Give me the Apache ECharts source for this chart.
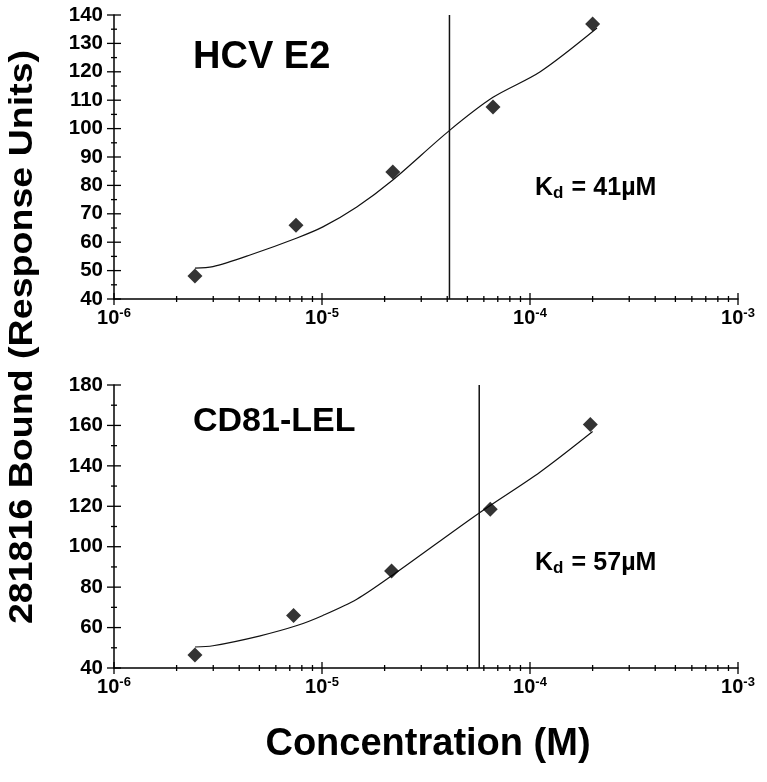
<!DOCTYPE html>
<html>
<head>
<meta charset="utf-8">
<script src="https://cdn.jsdelivr.net/npm/echarts@6/dist/echarts.min.js"></script>
<style>
  html, body { margin: 0; padding: 0; background: #fff; }
  #chart { width: 767px; height: 782px; }
</style>
</head>
<body>
<div id="chart"></div>
<script>
// measured points (concentration in M, response units)
const e2Conc = [2.45e-6, 7.5e-6, 2.19e-5, 6.64e-5, 2.0e-4];
const e2Bound = [48.1, 66.0, 84.7, 107.6, 136.8];
const cd81Conc = [2.45e-6, 7.3e-6, 2.16e-5, 6.44e-5, 1.95e-4];
const cd81Bound = [46.4, 66.0, 88.0, 118.5, 160.5];

// fitted curves
const e2FitConc = [2.45e-6, 2.99e-6, 4.51e-6, 7.58e-6, 1.01e-5, 1.47e-5, 2.19e-5, 4.08e-5, 6.64e-5, 1.12e-4, 2.1e-4];
const e2FitBound = [50.9, 51.4, 55.5, 61.5, 65.4, 72.4, 81.9, 99.2, 111.0, 120.0, 135.4];
const cd81FitConc = [2.45e-6, 2.99e-6, 4.99e-6, 7.58e-6, 1.01e-5, 1.47e-5, 2.19e-5, 5.7e-5, 1.12e-4, 2.0e-4];
const cd81FitBound = [50.4, 51.0, 55.8, 61.0, 66.0, 74.0, 86.0, 116.7, 137.0, 157.0];

const e2Kd = 41e-6;
const cd81Kd = 57e-6;

// axis ticks
const xMajor = [1e-6, 1e-5, 1e-4, 1e-3];
const xMinor = [2e-6, 3e-6, 4e-6, 5e-6, 6e-6, 7e-6, 8e-6, 9e-6,
  2e-5, 3e-5, 4e-5, 5e-5, 6e-5, 7e-5, 8e-5, 9e-5,
  2e-4, 3e-4, 4e-4, 5e-4, 6e-4, 7e-4, 8e-4, 9e-4];
const e2YMajor = [40, 50, 60, 70, 80, 90, 100, 110, 120, 130, 140];
const e2YMinor = [45, 55, 65, 75, 85, 95, 105, 115, 125, 135];
const cd81YMajor = [40, 60, 80, 100, 120, 140, 160, 180];
const cd81YMinor = [50, 70, 90, 110, 130, 150, 170];

const FONT = "'Liberation Sans', Arial, sans-serif";
const chart = echarts.init(document.getElementById("chart"));

function xAxisOpt(gridIndex) {
  return {
    type: "log",
    logBase: 10,
    gridIndex,
    min: 1e-6,
    max: 1e-3,
    splitLine: { show: false },
    axisTick: { show: false },
    minorTick: { show: false },
    axisLine: { lineStyle: { color: "#000", width: 1.5 } },
    axisLabel: {
      margin: 8,
      color: "#000",
      formatter: (v) => "{b|10}{s|" + Math.round(Math.log10(v)) + "}",
      rich: {
        b: { fontSize: 20, fontWeight: "bold", fontFamily: FONT, color: "#000" },
        s: { fontSize: 13, fontWeight: "bold", fontFamily: FONT, color: "#000", padding: [0, 0, 9, 0] },
      },
    },
  };
}

function yAxisOpt(gridIndex, min, max, interval) {
  return {
    type: "value",
    gridIndex,
    min,
    max,
    interval,
    splitLine: { show: false },
    axisTick: { show: false },
    axisLine: { show: true, lineStyle: { color: "#000", width: 1.5 } },
    axisLabel: {
      margin: 11,
      color: "#000",
      fontSize: 20.5,
      fontWeight: "bold",
      fontFamily: FONT,
    },
  };
}

// tick marks that cross the axis line
function xTicks(idx, yBase) {
  const data = xMajor.map((v) => [v, yBase, 6]).concat(xMinor.map((v) => [v, yBase, 3]));
  return {
    type: "custom",
    xAxisIndex: idx,
    yAxisIndex: idx,
    silent: true,
    clip: false,
    data,
    renderItem: (params, api) => {
      const p = api.coord([api.value(0), api.value(1)]);
      const len = api.value(2);
      return {
        type: "line",
        shape: { x1: p[0], y1: p[1] - len, x2: p[0], y2: p[1] + len },
        style: { stroke: "#000", lineWidth: 1.3 },
      };
    },
  };
}

function yTicks(idx, xBase, major, minor) {
  const data = major.map((v) => [xBase, v, 7]).concat(minor.map((v) => [xBase, v, 3]));
  return {
    type: "custom",
    xAxisIndex: idx,
    yAxisIndex: idx,
    silent: true,
    clip: false,
    data,
    renderItem: (params, api) => {
      const p = api.coord([api.value(0), api.value(1)]);
      const len = api.value(2);
      return {
        type: "line",
        shape: { x1: p[0] - len, y1: p[1], x2: p[0] + len, y2: p[1] },
        style: { stroke: "#000", lineWidth: 1.3 },
      };
    },
  };
}

function zip(a, b) {
  return a.map((v, i) => [v, b[i]]);
}

function panel(idx, conc, bound, fitConc, fitBound, kd, yMin, yMax) {
  return [
    {
      type: "line",
      xAxisIndex: idx,
      yAxisIndex: idx,
      data: zip(fitConc, fitBound),
      smooth: 0.3,
      showSymbol: false,
      lineStyle: { color: "#111", width: 1.2 },
      z: 2,
    },
    {
      type: "line",
      xAxisIndex: idx,
      yAxisIndex: idx,
      data: [[kd, yMin], [kd, yMax]],
      showSymbol: false,
      lineStyle: { color: "#111", width: 1.5 },
      z: 2,
    },
    {
      type: "scatter",
      xAxisIndex: idx,
      yAxisIndex: idx,
      data: zip(conc, bound),
      symbol: "diamond",
      symbolSize: 15,
      itemStyle: { color: "#000" },
      z: 3,
    },
  ];
}

const kdRich = {
  k: { fontSize: 25, fontWeight: "bold", fontFamily: FONT, fill: "#000" },
  d: { fontSize: 17, fontWeight: "bold", fontFamily: FONT, fill: "#000", padding: [11, 8, 0, 0] },
  e: { fontSize: 25, fontWeight: "bold", fontFamily: FONT, fill: "#000", padding: [0, 4, 0, 0] },
};

const option = {
  animation: false,
  backgroundColor: "#fff",
  grid: [
    { left: 114, top: 15, width: 624, height: 284 },
    { left: 114, top: 385, width: 624, height: 283 },
  ],
  xAxis: [xAxisOpt(0), xAxisOpt(1)],
  yAxis: [yAxisOpt(0, 40, 140, 10), yAxisOpt(1, 40, 180, 20)],
  series: [
    ...panel(0, e2Conc, e2Bound, e2FitConc, e2FitBound, e2Kd, 40, 140),
    ...panel(1, cd81Conc, cd81Bound, cd81FitConc, cd81FitBound, cd81Kd, 40, 180),
    xTicks(0, 40),
    xTicks(1, 40),
    yTicks(0, 1e-6, e2YMajor, e2YMinor),
    yTicks(1, 1e-6, cd81YMajor, cd81YMinor),
  ],
  graphic: [
    {
      type: "text",
      x: 23,
      y: 337,
      rotation: Math.PI / 2,
      scaleY: 0.88,
      style: {
        text: "281816 Bound (Response Units)",
        font: "bold 37.6px " + FONT,
        fill: "#000",
        textAlign: "center",
        textVerticalAlign: "middle",
      },
    },
    {
      type: "text",
      x: 428,
      y: 745,
      style: {
        text: "Concentration (M)",
        font: "bold 38px " + FONT,
        fill: "#000",
        textAlign: "center",
        textVerticalAlign: "middle",
      },
    },
    {
      type: "text",
      x: 193,
      y: 58,
      style: { text: "HCV E2", font: "bold 38px " + FONT, fill: "#000", textVerticalAlign: "middle" },
    },
    {
      type: "text",
      x: 193,
      y: 422,
      style: { text: "CD81-LEL", font: "bold 34px " + FONT, fill: "#000", textVerticalAlign: "middle" },
    },
    {
      type: "text",
      x: 535,
      y: 188,
      style: { text: "{k|K}{d|d}{e|=} {k|41µM}", rich: kdRich, textVerticalAlign: "middle" },
    },
    {
      type: "text",
      x: 535,
      y: 563,
      style: { text: "{k|K}{d|d}{e|=} {k|57µM}", rich: kdRich, textVerticalAlign: "middle" },
    },
  ],
};

chart.setOption(option);
</script>
</body>
</html>
